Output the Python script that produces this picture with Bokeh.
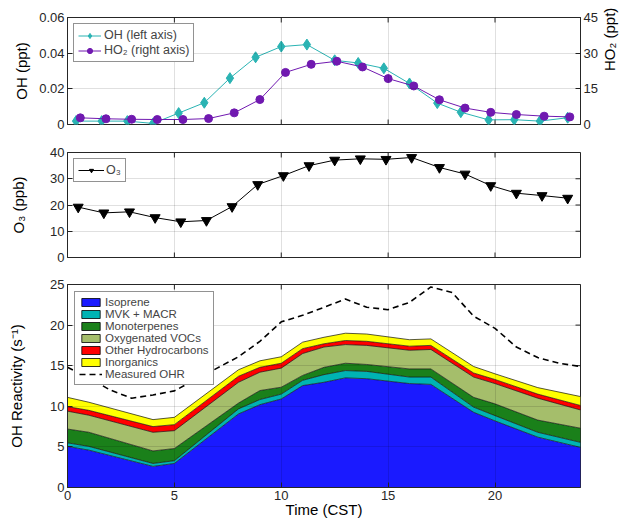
import math
from bokeh.plotting import figure
from bokeh.models import (ColumnDataSource, LinearAxis, Range1d, FixedTicker,
                          Legend, LegendItem)
from bokeh.layouts import column
from bokeh.embed import file_html
from bokeh.resources import INLINE

# ---------------- data ----------------
oh_time = [0.4, 1.6, 2.8, 4.0, 5.2, 6.4, 7.6, 8.8, 10.0, 11.2,
           12.5, 13.6, 14.8, 16.0, 17.3, 18.4, 19.7, 20.9, 22.1, 23.4]
oh_ppt = [0.0019, 0.0019, 0.0019, 0.0006, 0.0064, 0.0122, 0.026, 0.0377, 0.0437, 0.0448,
          0.036, 0.0345, 0.0315, 0.023, 0.012, 0.0069, 0.0026, 0.0027, 0.0019, 0.0038]

ho2_time = [0.6, 1.8, 3.0, 4.2, 5.4, 6.6, 7.8, 9.0, 10.2, 11.4,
            12.6, 13.8, 15.0, 16.2, 17.4, 18.6, 19.8, 21.0, 22.3, 23.5]
ho2_ppt = [2.8, 2.4, 2.2, 2.1, 2.1, 2.5, 4.9, 10.5, 21.9, 25.3,
           26.6, 24.2, 19.3, 16.2, 10.4, 6.9, 5.1, 4.2, 3.5, 3.2]

o3_time = [0.5, 1.7, 2.9, 4.1, 5.3, 6.5, 7.7, 8.9, 10.1, 11.3,
           12.5, 13.7, 14.9, 16.1, 17.4, 18.6, 19.8, 21.0, 22.2, 23.4]
o3_ppb = [19.2, 17.0, 17.4, 15.2, 13.6, 14.1, 19.4, 27.8, 31.2, 35.0,
          37.1, 37.6, 37.4, 38.1, 34.3, 31.8, 27.4, 24.5, 23.6, 22.6]

ohr_time = [0, 1, 4, 5, 8, 9, 10, 11, 12, 13, 14, 16, 17, 19, 20, 22, 24]
isoprene = [5.06, 4.6, 2.6, 2.96, 9.06, 10.2, 10.9, 12.55, 12.96, 13.5, 13.4, 12.8, 12.7, 9.26, 8.2, 6.2, 4.94]
mvk_macr = [0.44, 0.46, 0.36, 0.34, 0.62, 0.63, 0.6, 0.65, 0.94, 0.9, 0.9, 0.8, 0.9, 0.64, 0.65, 0.6, 0.62]
monoterpenes = [1.7, 1.74, 1.54, 1.5, 0.72, 1.11, 0.85, 0.6, 0.9, 0.9, 0.85, 1.0, 1.0, 1.2, 1.45, 1.5, 1.74]
oxygenated_vocs = [2.2, 2.1, 2.3, 2.2, 2.56, 2.26, 2.35, 2.7, 2.5, 2.3, 2.35, 2.3, 2.4, 2.5, 2.5, 2.7, 2.25]
other_hydrocarbons = [0.56, 0.6, 0.7, 0.74, 0.74, 0.6, 0.6, 0.6, 0.4, 0.5, 0.5, 0.5, 0.5, 0.5, 0.5, 0.5, 0.55]
inorganics = [1.14, 1.0, 0.86, 0.9, 0.8, 0.8, 0.8, 0.8, 0.8, 0.9, 0.9, 0.8, 0.8, 0.8, 0.7, 0.8, 1.1]

meas_time = [0, 1, 2, 3, 4, 5, 6, 7, 8, 9, 10, 11, 12,
             13, 14, 15, 16, 17, 18, 19, 20, 21, 22, 23, 24]
measured_ohr = [14.8, 13.5, 12.0, 11.0, 11.4, 11.9, 13.3, 14.7, 16.1, 18.0, 20.4, 21.2, 22.2,
                23.2, 22.2, 21.9, 22.8, 24.7, 24.0, 21.1, 19.6, 17.3, 16.0, 15.3, 14.9]

species_names = ["Isoprene", "MVK + MACR", "Monoterpenes", "Oxygenated VOCs",
                 "Other Hydrocarbons", "Inorganics"]
species_colors = ["#1a1aff", "#00b3b3", "#1a801a", "#a5be6b", "#ff0000", "#ffff00"]

x_ticks = [0, 5, 10, 15, 20]
oh_ticks = [0, 0.02, 0.04, 0.06]
oh_tick_labels = ["0", "0.02", "0.04", "0.06"]
ho2_ticks = [0, 15, 30, 45]
o3_ticks = [0, 10, 20, 30, 40]
ohr_ticks = [0, 5, 10, 15, 20, 25]

X_MIN, X_MAX = 0, 24

# ---------------- style ----------------
FONT = "Liberation Sans"
AX = "#262626"
OH_C = "#2ab3b3"
HO2_C = "#7019b0"
W = 629


def style_axis(ax, ticks):
    ax.ticker = FixedTicker(ticks=ticks)
    ax.major_tick_in = 5
    ax.major_tick_out = 0
    ax.minor_tick_line_color = None
    ax.axis_line_color = AX
    ax.major_tick_line_color = AX
    ax.major_label_text_font = FONT
    ax.major_label_text_color = AX
    ax.major_label_text_font_size = "13px"
    ax.major_label_standoff = 3
    ax.axis_label_text_font = FONT
    ax.axis_label_text_font_size = "15px"
    ax.axis_label_text_font_style = "normal"
    ax.axis_label_text_color = "black"
    ax.axis_label_standoff = 4


def inner_ticks(p, xs, ys, angle):
    # short inward tick marks on the box edges (half of each dash is clipped by the frame)
    p.scatter(x=xs, y=ys, marker="dash", angle=angle, size=10,
              line_color=AX, line_width=1)


def make_fig(height, yr, ticks, top, bottom, show_x):
    p = figure(width=W, height=height,
               x_range=Range1d(X_MIN, X_MAX), y_range=Range1d(*yr),
               output_backend="svg", toolbar_location=None,
               min_border_left=67, min_border_right=W - 67 - 519,
               min_border_top=top, min_border_bottom=bottom)
    p.outline_line_color = AX
    p.outline_line_width = 1
    style_axis(p.xaxis[0], x_ticks)
    style_axis(p.yaxis[0], ticks)
    p.xaxis[0].visible = show_x
    p.xgrid.ticker = FixedTicker(ticks=x_ticks)
    p.ygrid.ticker = FixedTicker(ticks=ticks)
    for g in (p.xgrid[0], p.ygrid[0]):
        g.grid_line_color = "black"
        g.grid_line_alpha = 0.12
        g.level = "guide"
    inner_ticks(p, x_ticks, [yr[1]] * len(x_ticks), math.pi / 2)
    if not show_x:
        inner_ticks(p, x_ticks, [yr[0]] * len(x_ticks), math.pi / 2)
    return p


def style_legend(lg):
    lg.location = "top_left"
    lg.margin = 7
    lg.padding = 4
    lg.spacing = -1
    lg.label_text_font = FONT
    lg.label_text_font_size = "11.5px"
    lg.label_text_line_height = 1.0
    lg.label_height = 12
    lg.glyph_height = 10
    lg.glyph_width = 23
    lg.label_standoff = 3
    lg.border_line_color = AX
    lg.border_line_width = 1
    lg.background_fill_alpha = 1


# ---------------- top panel: OH / HO2 ----------------
p1 = make_fig(138, (0, 0.06), oh_ticks, 17, 14, False)
p1.yaxis[0].major_label_overrides = dict(zip(oh_ticks, oh_tick_labels))
p1.yaxis[0].axis_label = "OH (ppt)"
p1.yaxis[0].axis_label_standoff = 6
p1.extra_y_ranges = {"ho2": Range1d(0, 45)}
ax_r = LinearAxis(y_range_name="ho2", axis_label="HO\u2082 (ppt)")
style_axis(ax_r, ho2_ticks)
ax_r.axis_label_standoff = 9
ax_r.axis_label_orientation = math.pi / 2
ax_r.axis_label_text_align = "center"
ax_r.axis_label_text_baseline = "top"
p1.add_layout(ax_r, "right")

l_oh = p1.line(oh_time, oh_ppt, line_color=OH_C, line_width=1)
m_oh = p1.scatter(oh_time, oh_ppt, marker="diamond", size=11, color=OH_C)
l_ho2 = p1.line(ho2_time, ho2_ppt, y_range_name="ho2", line_color=HO2_C, line_width=1)
m_ho2 = p1.scatter(ho2_time, ho2_ppt, y_range_name="ho2", marker="circle", size=8, color=HO2_C)
lg1 = Legend(items=[LegendItem(label="OH (left axis)", renderers=[l_oh, m_oh]),
                    LegendItem(label="HO\u2082 (right axis)", renderers=[l_ho2, m_ho2])])
style_legend(lg1)
lg1.label_text_font_size = "12.5px"
lg1.spacing = 1
lg1.label_height = 14
lg1.glyph_height = 13
lg1.margin = 6
p1.add_layout(lg1)

# ---------------- middle panel: O3 ----------------
p2 = make_fig(132, (0, 40), o3_ticks, 14, 13, False)
p2.yaxis[0].axis_label = "O\u2083 (ppb)"
p2.yaxis[0].axis_label_standoff = 20
inner_ticks(p2, [X_MAX] * len(o3_ticks), o3_ticks, 0)
l_o3 = p2.line(o3_time, o3_ppb, line_color="black", line_width=1)
m_o3 = p2.scatter(o3_time, o3_ppb, marker="inverted_triangle", size=10, color="black")
lg2 = Legend(items=[LegendItem(label="O\u2083", renderers=[l_o3, m_o3])])
style_legend(lg2)
lg2.label_text_font_size = "12.5px"
lg2.label_height = 14
lg2.label_width = 14
lg2.glyph_width = 26
lg2.label_standoff = 2
lg2.margin = 6
p2.add_layout(lg2)

# ---------------- bottom panel: OH reactivity ----------------
p3 = make_fig(250, (0, 25), ohr_ticks, 14, 33, True)
xb = p3.below[0]
xb.axis_label = "Time (CST)"
xb.major_label_standoff = 3
xb.axis_label_standoff = -2
p3.yaxis[0].axis_label = "OH Reactivity (s\u207b\u00b9)"
p3.yaxis[0].axis_label_standoff = 22
inner_ticks(p3, [X_MAX] * len(ohr_ticks), ohr_ticks, 0)

keys = ["isoprene", "mvk_macr", "monoterpenes", "oxygenated_vocs",
        "other_hydrocarbons", "inorganics"]
src = ColumnDataSource(dict(t=ohr_time, isoprene=isoprene, mvk_macr=mvk_macr,
                            monoterpenes=monoterpenes, oxygenated_vocs=oxygenated_vocs,
                            other_hydrocarbons=other_hydrocarbons, inorganics=inorganics))
p3.varea_stack(keys, x="t", color=species_colors, source=src)
p3.vline_stack(keys, x="t", line_color="#111111", line_width=0.7, source=src)
l_meas = p3.line(meas_time, measured_ohr, line_color="black", line_width=1.6, line_dash="6 4")

items = []
nan = float("nan")
for name, col in zip(species_names, species_colors):
    # legend swatch only (no visible data)
    r = p3.quad(left=[nan], right=[nan], top=[nan], bottom=[nan], fill_color=col,
                line_color="black", line_width=0.8)
    items.append(LegendItem(label=name, renderers=[r]))
items.append(LegendItem(label="Measured OHR", renderers=[l_meas]))
lg3 = Legend(items=items)
style_legend(lg3)
p3.add_layout(lg3)

layout = column(p1, p2, p3, spacing=0)
open("out.html", "w").write(file_html(layout, INLINE))
